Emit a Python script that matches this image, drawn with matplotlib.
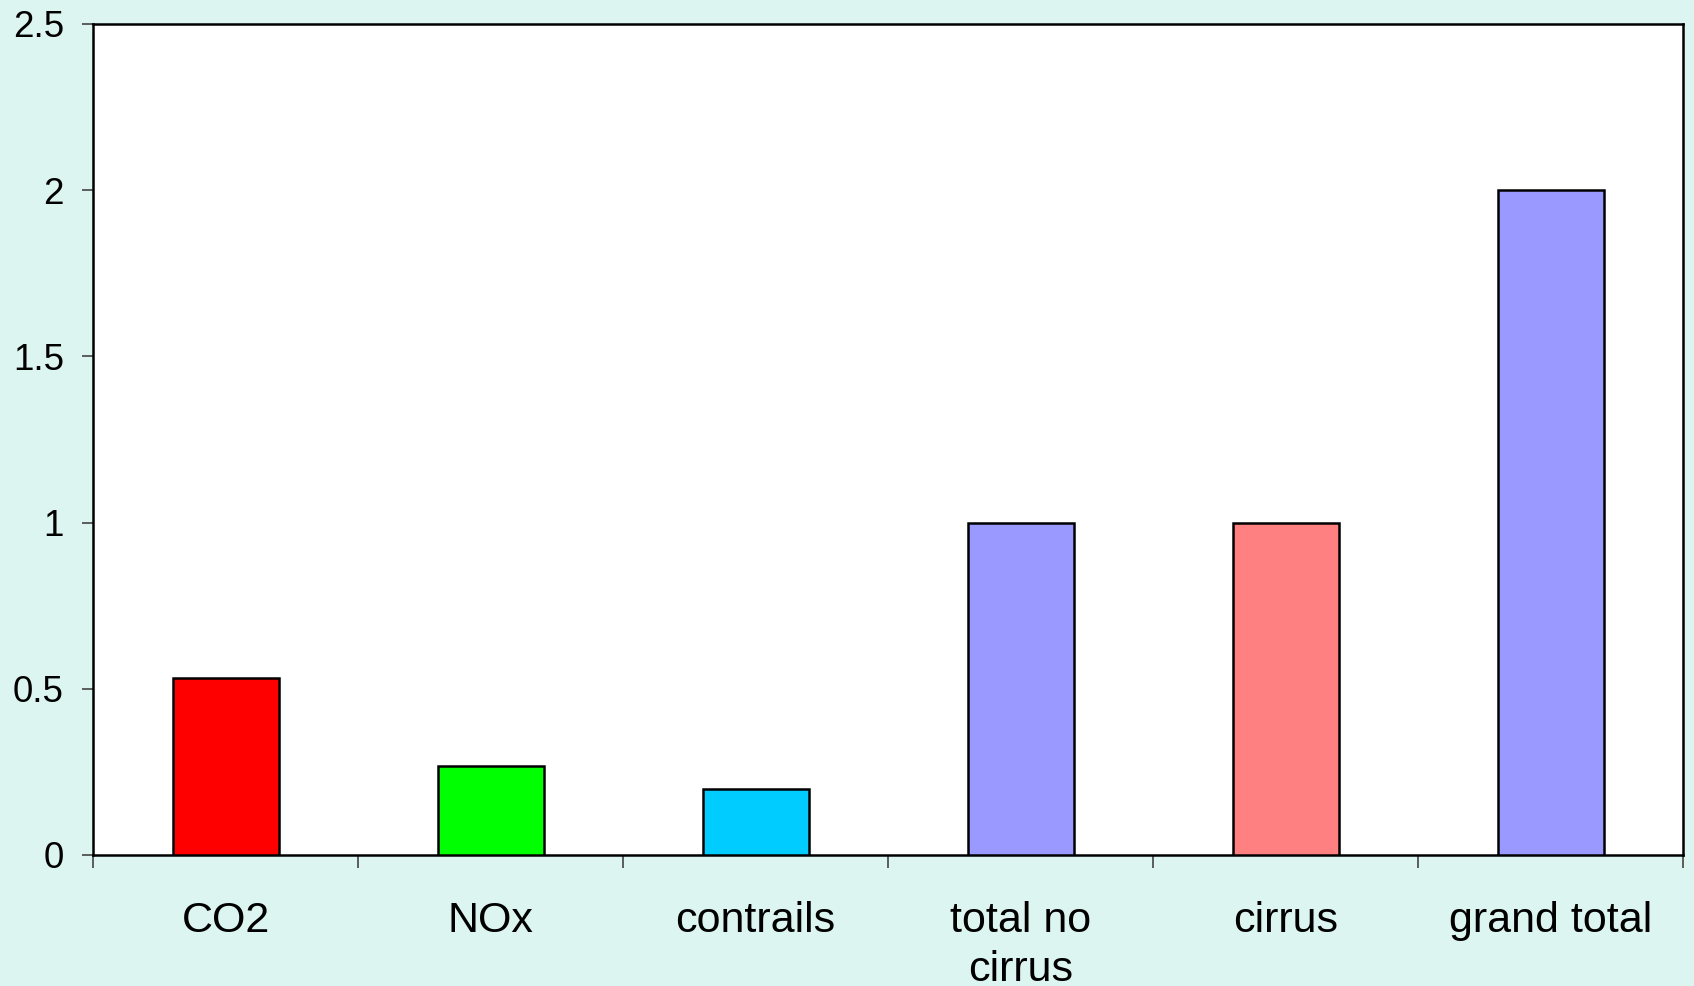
import matplotlib
matplotlib.use('Agg')
import matplotlib.pyplot as plt
import numpy as np

categories = ['CO2', 'NOx', 'contrails', 'total no\ncirrus', 'cirrus', 'grand total']
values = [0.533, 0.267, 0.2, 1.0, 1.0, 2.0]
colors = ['#FF0000', '#00FF00', '#00CCFF', '#9999FF', '#FF8080', '#9999FF']
y_ticks = [0, 0.5, 1, 1.5, 2, 2.5]
y_labels = ['0', '0.5', '1', '1.5', '2', '2.5']

plt.rcParams['font.family'] = ['Liberation Sans', 'DejaVu Sans']

fig = plt.figure(figsize=(16.94, 9.86), dpi=100)
fig.patch.set_facecolor('#DCF5F1')
ax = fig.add_axes([93 / 1694, 131 / 986, 1590 / 1694, 831 / 986])
ax.set_facecolor('white')

x = np.arange(len(categories))
ax.bar(x, values, width=0.4, color=colors, edgecolor='black', linewidth=1.8, zorder=3)

ax.set_xlim(-0.5, len(categories) - 0.5)
ax.set_ylim(0, 2.5)

# category boundaries get the tick marks, centres get the labels
ax.set_xticks(np.arange(len(categories) + 1) - 0.5)
ax.set_xticklabels([])
ax.set_xticks(x, minor=True)
ax.set_xticklabels(categories, minor=True, fontsize=31, linespacing=1.3)
ax.tick_params(axis='x', which='major', direction='out', length=9.5, width=1.2, color='#444444')
ax.tick_params(axis='x', which='minor', length=0, pad=33)

ax.set_yticks(y_ticks)
ax.set_yticklabels(y_labels, fontsize=26.5)
ax.tick_params(axis='y', direction='out', length=8, width=1.2, color='#444444', pad=13)

for side in ['left', 'right', 'top', 'bottom']:
    ax.spines[side].set_linewidth(1.8)
    ax.spines[side].set_color('black')

fig.savefig('out.png', dpi=100, facecolor=fig.get_facecolor())
